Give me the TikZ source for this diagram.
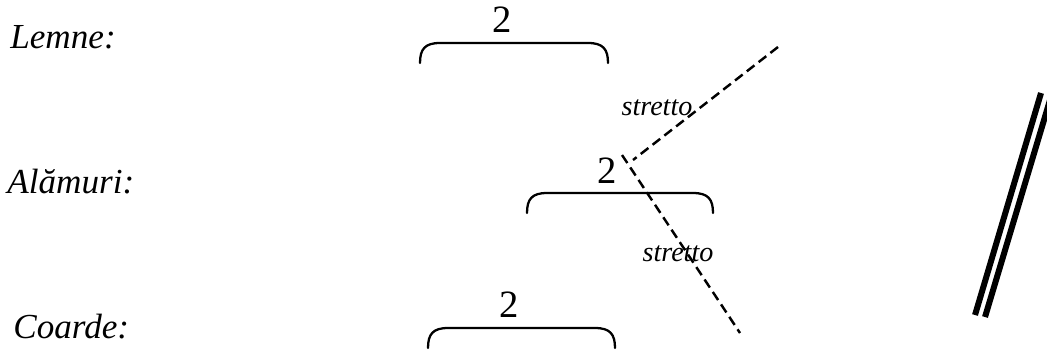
\documentclass[tikz,border=0pt]{standalone}
\usepackage{fontspec}
\setmainfont{Liberation Serif}
\usetikzlibrary{positioning,calc}
\tikzset{
 part label/.style={anchor=base west,inner sep=0pt,font=\fontsize{20}{24}\selectfont\itshape},
 voice count/.style={anchor=base,inner sep=0pt,font=\fontsize{22}{26}\selectfont},
 stretto label/.style={inner sep=0pt,font=\fontsize{16}{18}\selectfont\itshape},
 group brace/.style={line width=1.3pt,line cap=round},
 stretto line/.style={line width=1.4pt,dash pattern=on 5.5pt off 3pt},
 end bar/.style={line width=0.12cm}
}
\begin{document}
\begin{tikzpicture}
\useasboundingbox (0,0) rectangle (20.94,7);
\clip (0,0) rectangle (20.94,7);
\node[part label] (lemne) at (0.2,6.04) {Lemne:};
\node[part label] (alamuri) at (0.14,3.14) {Alămuri:};
\node[part label] (coarde) at (0.26,0.24) {Coarde:};
\node[voice count] (lemnecount) at (10.04,6.36) {2};
\node[voice count] (alamuricount) at (12.14,3.34) {2};
\node[voice count] (coardecount) at (10.18,0.66) {2};
\draw[group brace] (8.4,5.74) .. controls (8.4,6.02) and (8.5,6.14) .. (8.8,6.14)
 -- (11.76,6.14) .. controls (12.06,6.14) and (12.16,6.02) .. (12.16,5.74);
\draw[group brace] (10.54,2.74) .. controls (10.54,3.02) and (10.64,3.14) .. (10.94,3.14)
 -- (13.86,3.14) .. controls (14.16,3.14) and (14.26,3.02) .. (14.26,2.74);
\draw[group brace] (8.56,0.04) .. controls (8.56,0.32) and (8.66,0.44) .. (8.96,0.44)
 -- (11.9,0.44) .. controls (12.2,0.44) and (12.3,0.32) .. (12.3,0.04);
\coordinate (upstart) at (15.56,6.06);
\coordinate (upend) at (12.66,3.8);
\coordinate (downstart) at (12.44,3.9);
\coordinate (downend) at (14.8,0.34);
\draw[stretto line] (upstart)--(upend);
\draw[stretto line] (downstart)--(downend);
\node[stretto label] (upstretto) at (13.14,4.84) {stretto};
\node[stretto label] (downstretto) at (13.56,1.92) {stretto};
\draw[end bar] (20.82,5.14)--(19.5,0.7);
\draw[end bar] (21.0,5.0)--(19.7,0.66);
\end{tikzpicture}
\end{document}
